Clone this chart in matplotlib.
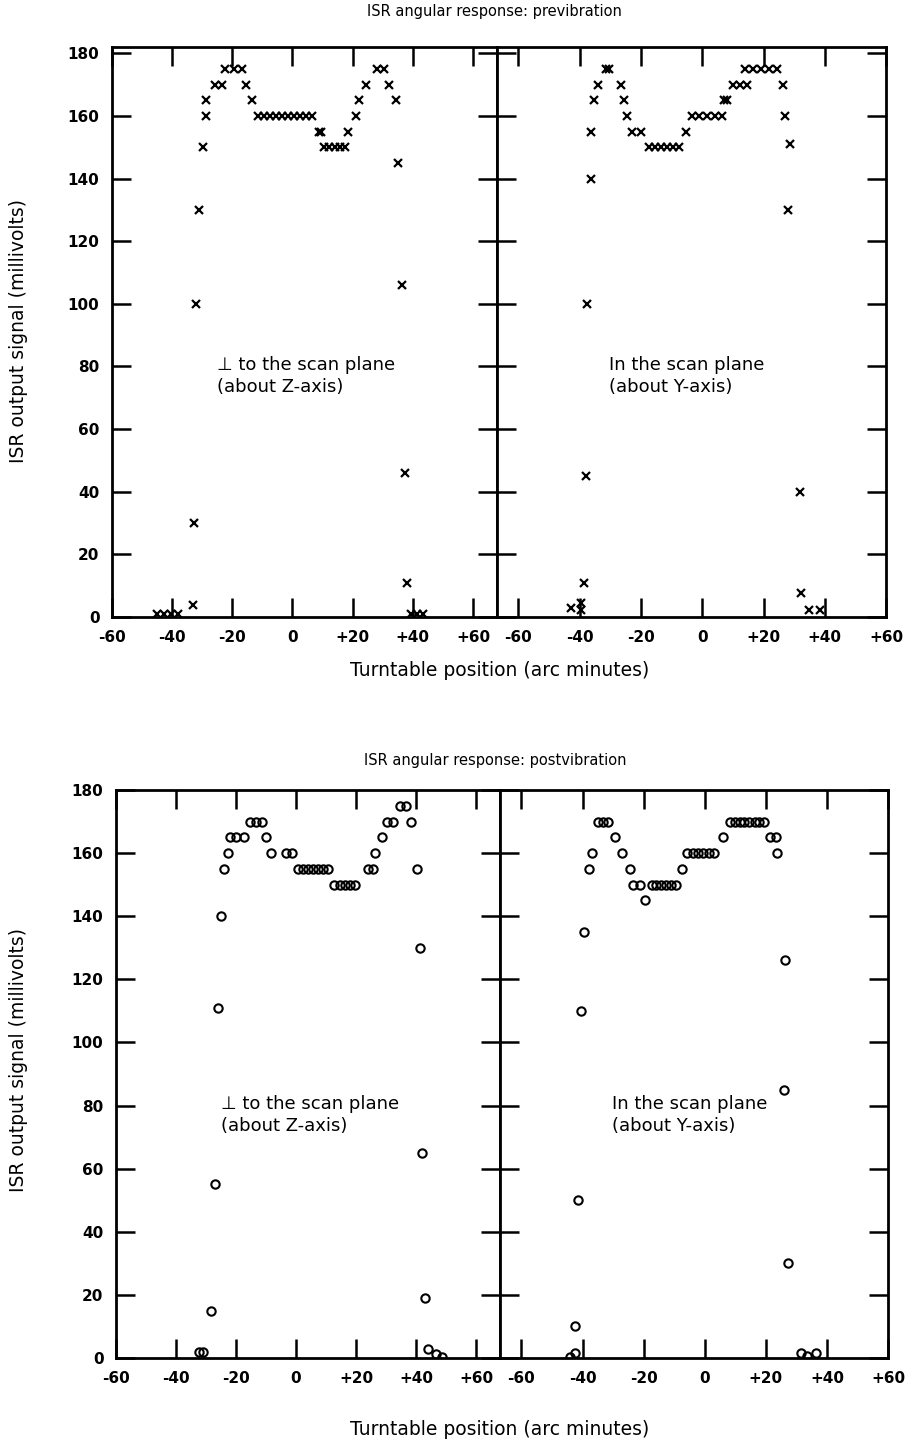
"ISR angular response, pre- and postvibration"
import matplotlib.pyplot as plt

# previbration, perpendicular to scan plane (about Z-axis)
pre_z_x = [-44.9, -42.6, -40.4, -37.9, -33.2, -32.7, -32.2, -31.2, -29.7, -28.9, -28.6,
           -25.9, -23.3, -22.3, -19.3, -16.9, -15.3, -13.3,
           -11.4, -9.4, -7.4, -5.4, -3.4, -1.4, 0.6, 2.6, 4.6, 6.6,
           8.8, 9.6, 10.5, 12.3, 14.0, 15.8, 17.5,
           18.3, 21.0, 22.2, 24.6, 28.2, 30.5, 32.2, 34.3, 35.2, 36.5, 37.4, 38.2,
           39.5, 41.5, 43.5]
pre_z_y = [1, 1, 1, 1, 4, 30, 100, 130, 150, 160, 165,
           170, 170, 175, 175, 175, 170, 165,
           160, 160, 160, 160, 160, 160, 160, 160, 160, 160,
           155, 155, 150, 150, 150, 150, 150,
           155, 160, 165, 170, 175, 175, 170, 165, 145, 106, 46, 11,
           1, 1, 1]

# previbration, in the scan plane (about Y-axis)
pre_y_x = [-42.9, -39.6, -39.6, -38.5, -38.0, -37.7, -36.4, -36.4, -35.3, -34.0, -31.5, -30.5,
           -26.6, -25.6, -24.5, -22.8, -20.1,
           -17.4, -15.5, -13.5, -11.6, -9.7, -7.7, -5.3,
           -3.3, -0.9, 1.5, 4.0, 6.4, 7.0, 8.0,
           9.9, 12.2, 14.5, 13.8, 16.5, 19.1, 21.8, 24.4,
           26.4, 27.0, 28.6, 28.0, 31.8, 32.4, 35.0, 38.3]
pre_y_y = [3, 4.5, 2.3, 11, 45, 100, 140, 155, 165, 170, 175, 175,
           170, 165, 160, 155, 155,
           150, 150, 150, 150, 150, 150, 155,
           160, 160, 160, 160, 160, 165, 165,
           170, 170, 170, 175, 175, 175, 175, 175,
           170, 160, 151, 130, 40, 7.6, 2.3, 2.3]

# postvibration, perpendicular to scan plane (about Z-axis)
post_z_x = [-32.3, -31.0, -28.2, -26.9, -26.0, -25.1, -24.0, -22.7,
            -22.1, -19.9, -17.5, -15.2, -13.4, -11.4, -9.9, -8.4, -3.5, -1.5,
            0.7, 2.3, 4.0, 5.7, 7.3, 9.0, 10.7,
            12.6, 14.6, 16.3, 18.0, 19.7, 23.9, 25.6, 26.4, 28.6,
            30.3, 32.3, 34.6, 36.5, 38.2, 40.4, 41.4, 42.0, 43.1, 44.0, 46.6, 48.8]
post_z_y = [2, 2, 15, 55, 111, 140, 155, 160,
            165, 165, 165, 170, 170, 170, 165, 160, 160, 160,
            155, 155, 155, 155, 155, 155, 155,
            150, 150, 150, 150, 150, 155, 155, 160, 165,
            170, 170, 175, 175, 170, 155, 130, 65, 19, 3, 1.3, 0.4]

# postvibration, in the scan plane (about Y-axis)
post_y_x = [-44.0, -42.6, -42.4, -41.6, -40.4, -39.4, -37.8, -37.0,
            -34.8, -33.2, -31.6, -29.3, -27.1, -24.6, -23.5, -21.1, -19.5,
            -17.4, -15.8, -14.2, -12.6, -11.0, -9.5, -7.4,
            -5.8, -4.0, -2.2, -0.5, 1.3, 3.1, 6.0,
            8.2, 9.8, 11.4, 13.0, 14.6, 16.3, 17.9, 19.5,
            21.3, 23.2, 23.8, 26.2, 26.1, 27.3, 31.6, 33.5, 36.4]
post_y_y = [0.3, 1.5, 10, 50, 110, 135, 155, 160,
            170, 170, 170, 165, 160, 155, 150, 150, 145,
            150, 150, 150, 150, 150, 150, 155,
            160, 160, 160, 160, 160, 160, 165,
            170, 170, 170, 170, 170, 170, 170, 170,
            165, 165, 160, 126, 85, 30, 1.5, 0.5, 1.5]

xticks = [-60, -40, -20, 0, 20, 40, 60]
xtick_labels = ['-60', '-40', '-20', '0', '+20', '+40', '+60']
yticks = [0, 20, 40, 60, 80, 100, 120, 140, 160, 180]

fig = plt.figure(figsize=(9.08, 14.56), dpi=100)


def style(ax, xlim, ylim, labels_left):
    ax.set_xlim(xlim)
    ax.set_ylim(ylim)
    ax.set_xticks(xticks)
    ax.set_xticklabels(xtick_labels)
    ax.set_yticks(yticks)
    ax.tick_params(direction='in', length=14, width=1.8, top=True, right=True,
                   labelsize=11, pad=9, labelleft=labels_left)
    for lbl in ax.get_xticklabels() + ax.get_yticklabels():
        lbl.set_fontweight('bold')
    for s in ax.spines.values():
        s.set_linewidth(2)


def panel(rect_l, rect_r, ylim, xs_l, ys_l, xs_r, ys_r, marker, title, ylabel_y, xlabel_y, title_y):
    ax1 = fig.add_axes(rect_l)
    ax2 = fig.add_axes(rect_r)
    if marker == 'x':
        ax1.plot(xs_l, ys_l, 'x', color='black', ms=6, mew=1.6)
        ax2.plot(xs_r, ys_r, 'x', color='black', ms=6, mew=1.6)
    else:
        ax1.plot(xs_l, ys_l, 'o', mfc='none', mec='black', ms=6, mew=1.5)
        ax2.plot(xs_r, ys_r, 'o', mfc='none', mec='black', ms=6, mew=1.5)
    style(ax1, (-60, 68), ylim, True)
    style(ax2, (-67, 60), ylim, False)
    ax1.text(-25, 77, '\u22a5 to the scan plane\n(about Z-axis)', fontsize=13, va='center', linespacing=1.25)
    ax2.text(-30.5, 77, 'In the scan plane\n(about Y-axis)', fontsize=13, va='center', linespacing=1.25)
    fig.text(0.545, title_y, title, fontsize=10.5, ha='center', va='center')
    fig.text(0.02, ylabel_y, 'ISR output signal (millivolts)', fontsize=13.5, rotation=90,
             ha='center', va='center')
    fig.text(0.55, xlabel_y, 'Turntable position (arc minutes)', fontsize=13.5, ha='center', va='center')


panel([0.1233, 0.5762, 0.4241, 0.3915], [0.5474, 0.5762, 0.4284, 0.3915], (0, 182),
      pre_z_x, pre_z_y, pre_y_x, pre_y_y, 'x',
      'ISR angular response: previbration', 0.773, 0.5398, 0.9918)
panel([0.1278, 0.0673, 0.4229, 0.3901], [0.5507, 0.0673, 0.4273, 0.3901], (0, 180),
      post_z_x, post_z_y, post_y_x, post_y_y, 'o',
      'ISR angular response: postvibration', 0.272, 0.0179, 0.478)

plt.savefig('out.png', dpi=100)
